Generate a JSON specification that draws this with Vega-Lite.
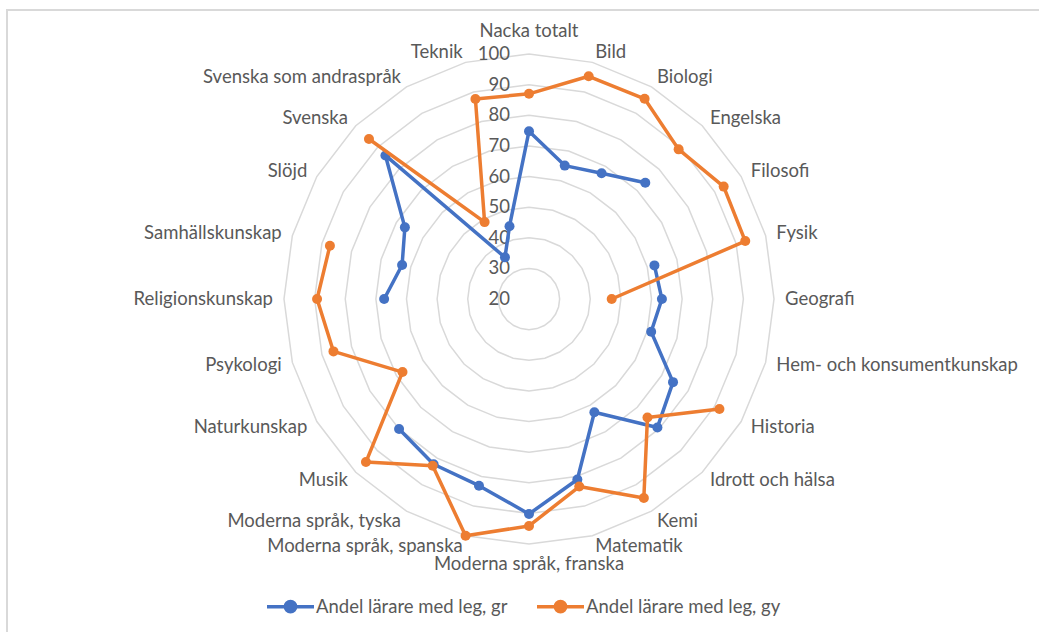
{
  "$schema": "https://vega.github.io/schema/vega-lite/v6.json",
  "width": 1035,
  "height": 625,
  "autosize": {"type": "none"},
  "padding": {"left": 7, "top": 10, "right": -3, "bottom": -3},
  "background": "white",
  "config": {
    "view": {"stroke": "#d9d9d9", "strokeWidth": 2},
    "font": "Lato",
    "text": {"font": "Lato", "fontSize": 18.5, "color": "#595959"}
  },
  "datasets": {
    "main": [
      {"cat": "Nacka totalt", "i": 0, "serie": "Andel lärare med leg, gr", "v": 74.8},
      {"cat": "Bild", "i": 1, "serie": "Andel lärare med leg, gr", "v": 65.1},
      {"cat": "Biologi", "i": 2, "serie": "Andel lärare med leg, gr", "v": 67.4},
      {"cat": "Engelska", "i": 3, "serie": "Andel lärare med leg, gr", "v": 73.7},
      {"cat": "Filosofi", "i": 4, "serie": "Andel lärare med leg, gr", "v": null},
      {"cat": "Fysik", "i": 5, "serie": "Andel lärare med leg, gr", "v": 62.4},
      {"cat": "Geografi", "i": 6, "serie": "Andel lärare med leg, gr", "v": 63.4},
      {"cat": "Hem- och konsumentkunskap", "i": 7, "serie": "Andel lärare med leg, gr", "v": 61.3},
      {"cat": "Historia", "i": 8, "serie": "Andel lärare med leg, gr", "v": 74.3},
      {"cat": "Idrott och hälsa", "i": 9, "serie": "Andel lärare med leg, gr", "v": 79.3},
      {"cat": "Kemi", "i": 10, "serie": "Andel lärare med leg, gr", "v": 62.7},
      {"cat": "Matematik", "i": 11, "serie": "Andel lärare med leg, gr", "v": 81.0},
      {"cat": "Moderna språk, franska", "i": 12, "serie": "Andel lärare med leg, gr", "v": 90.2},
      {"cat": "Moderna språk, spanska", "i": 13, "serie": "Andel lärare med leg, gr", "v": 83.1},
      {"cat": "Moderna språk, tyska", "i": 14, "serie": "Andel lärare med leg, gr", "v": 82.3},
      {"cat": "Musik", "i": 15, "serie": "Andel lärare med leg, gr", "v": 80.0},
      {"cat": "Naturkunskap", "i": 16, "serie": "Andel lärare med leg, gr", "v": null},
      {"cat": "Psykologi", "i": 17, "serie": "Andel lärare med leg, gr", "v": null},
      {"cat": "Religionskunskap", "i": 18, "serie": "Andel lärare med leg, gr", "v": 67.3},
      {"cat": "Samhällskunskap", "i": 19, "serie": "Andel lärare med leg, gr", "v": 62.9},
      {"cat": "Slöjd", "i": 20, "serie": "Andel lärare med leg, gr", "v": 66.8},
      {"cat": "Svenska", "i": 21, "serie": "Andel lärare med leg, gr", "v": 86.3},
      {"cat": "Svenska som andraspråk", "i": 22, "serie": "Andel lärare med leg, gr", "v": 35.7},
      {"cat": "Teknik", "i": 23, "serie": "Andel lärare med leg, gr", "v": 44.6},
      {"cat": "Nacka totalt", "i": 24, "serie": "Andel lärare med leg, gr", "v": 74.8},
      {"cat": "Nacka totalt", "i": 0, "serie": "Andel lärare med leg, gy", "v": 87.0},
      {"cat": "Bild", "i": 1, "serie": "Andel lärare med leg, gy", "v": 95.3},
      {"cat": "Biologi", "i": 2, "serie": "Andel lärare med leg, gy", "v": 95.5},
      {"cat": "Engelska", "i": 3, "serie": "Andel lärare med leg, gy", "v": 89.1},
      {"cat": "Filosofi", "i": 4, "serie": "Andel lärare med leg, gy", "v": 93.4},
      {"cat": "Fysik", "i": 5, "serie": "Andel lärare med leg, gy", "v": 93.1},
      {"cat": "Geografi", "i": 6, "serie": "Andel lärare med leg, gy", "v": 47.0},
      {"cat": "Hem- och konsumentkunskap", "i": 7, "serie": "Andel lärare med leg, gy", "v": null},
      {"cat": "Historia", "i": 8, "serie": "Andel lärare med leg, gy", "v": 91.8},
      {"cat": "Idrott och hälsa", "i": 9, "serie": "Andel lärare med leg, gy", "v": 74.7},
      {"cat": "Kemi", "i": 10, "serie": "Andel lärare med leg, gy", "v": 95.0},
      {"cat": "Matematik", "i": 11, "serie": "Andel lärare med leg, gy", "v": 83.4},
      {"cat": "Moderna språk, franska", "i": 12, "serie": "Andel lärare med leg, gy", "v": 94.1},
      {"cat": "Moderna språk, spanska", "i": 13, "serie": "Andel lärare med leg, gy", "v": 100.0},
      {"cat": "Moderna språk, tyska", "i": 14, "serie": "Andel lärare med leg, gy", "v": 82.9},
      {"cat": "Musik", "i": 15, "serie": "Andel lärare med leg, gy", "v": 95.3},
      {"cat": "Naturkunskap", "i": 16, "serie": "Andel lärare med leg, gy", "v": 67.7},
      {"cat": "Psykologi", "i": 17, "serie": "Andel lärare med leg, gy", "v": 86.1},
      {"cat": "Religionskunskap", "i": 18, "serie": "Andel lärare med leg, gy", "v": 89.2},
      {"cat": "Samhällskunskap", "i": 19, "serie": "Andel lärare med leg, gy", "v": 87.3},
      {"cat": "Slöjd", "i": 20, "serie": "Andel lärare med leg, gy", "v": null},
      {"cat": "Svenska", "i": 21, "serie": "Andel lärare med leg, gy", "v": 93.9},
      {"cat": "Svenska som andraspråk", "i": 22, "serie": "Andel lärare med leg, gy", "v": 49.0},
      {"cat": "Teknik", "i": 23, "serie": "Andel lärare med leg, gy", "v": 87.6},
      {"cat": "Nacka totalt", "i": 24, "serie": "Andel lärare med leg, gy", "v": 87.0}
    ],
    "grid": [
      {"r": 30, "k": [0,1,2,3,4,5,6,7,8,9,10,11,12,13,14,15,16,17,18,19,20,21,22,23,24]},
      {"r": 40, "k": [0,1,2,3,4,5,6,7,8,9,10,11,12,13,14,15,16,17,18,19,20,21,22,23,24]},
      {"r": 50, "k": [0,1,2,3,4,5,6,7,8,9,10,11,12,13,14,15,16,17,18,19,20,21,22,23,24]},
      {"r": 60, "k": [0,1,2,3,4,5,6,7,8,9,10,11,12,13,14,15,16,17,18,19,20,21,22,23,24]},
      {"r": 70, "k": [0,1,2,3,4,5,6,7,8,9,10,11,12,13,14,15,16,17,18,19,20,21,22,23,24]},
      {"r": 80, "k": [0,1,2,3,4,5,6,7,8,9,10,11,12,13,14,15,16,17,18,19,20,21,22,23,24]},
      {"r": 90, "k": [0,1,2,3,4,5,6,7,8,9,10,11,12,13,14,15,16,17,18,19,20,21,22,23,24]},
      {"r": 100, "k": [0,1,2,3,4,5,6,7,8,9,10,11,12,13,14,15,16,17,18,19,20,21,22,23,24]}
    ],
    "ticks": [
      {"t": 20}, {"t": 30}, {"t": 40}, {"t": 50}, {"t": 60}, {"t": 70}, {"t": 80}, {"t": 90}, {"t": 100}
    ]
  },
  "layer": [
    {
      "data": {"name": "grid"},
      "transform": [
        {"flatten": ["k"]},
        {"calculate": "(datum.r - 20) * sin(datum.k * PI / 12)", "as": "gx"},
        {"calculate": "(datum.r - 20) * cos(datum.k * PI / 12)", "as": "gy"}
      ],
      "mark": {"type": "line", "stroke": "#d9d9d9", "strokeWidth": 1.5},
      "encoding": {
        "x": {"field": "gx", "type": "quantitative", "scale": {"domain": [-170.45, 167.51], "zero": false, "nice": false}, "axis": null},
        "y": {"field": "gy", "type": "quantitative", "scale": {"domain": [-109.71, 94.37], "zero": false, "nice": false}, "axis": null},
        "detail": {"field": "r", "type": "nominal"},
        "order": {"field": "k", "type": "quantitative"}
      }
    },
    {
      "data": {"name": "ticks"},
      "transform": [{"calculate": "datum.t - 20", "as": "ty"}],
      "mark": {"type": "text", "align": "right", "baseline": "middle", "dx": -19},
      "encoding": {
        "x": {"datum": 0, "type": "quantitative"},
        "y": {"field": "ty", "type": "quantitative"},
        "text": {"field": "t", "type": "quantitative"}
      }
    },
    {
      "data": {"name": "main"},
      "transform": [
        {"filter": "datum.serie == 'Andel lärare med leg, gr' && datum.i > 0 && datum.i < 12"},
        {"calculate": "83.6 * sin(datum.i * PI / 12)", "as": "lx"},
        {"calculate": "83.6 * cos(datum.i * PI / 12)", "as": "ly"}
      ],
      "mark": {"type": "text", "align": "left", "baseline": "middle"},
      "encoding": {
        "x": {"field": "lx", "type": "quantitative"},
        "y": {"field": "ly", "type": "quantitative"},
        "text": {"field": "cat", "type": "nominal"}
      }
    },
    {
      "data": {"name": "main"},
      "transform": [
        {"filter": "datum.serie == 'Andel lärare med leg, gr' && datum.i > 12 && datum.i < 24"},
        {"calculate": "83.6 * sin(datum.i * PI / 12)", "as": "lx"},
        {"calculate": "83.6 * cos(datum.i * PI / 12)", "as": "ly"}
      ],
      "mark": {"type": "text", "align": "right", "baseline": "middle"},
      "encoding": {
        "x": {"field": "lx", "type": "quantitative"},
        "y": {"field": "ly", "type": "quantitative"},
        "text": {"field": "cat", "type": "nominal"}
      }
    },
    {
      "data": {"name": "main"},
      "transform": [
        {"filter": "datum.serie == 'Andel lärare med leg, gr' && datum.i == 0"},
        {"calculate": "83.6 * sin(datum.i * PI / 12)", "as": "lx"},
        {"calculate": "83.6 * cos(datum.i * PI / 12)", "as": "ly"}
      ],
      "mark": {"type": "text", "align": "center", "baseline": "alphabetic", "dy": -6},
      "encoding": {
        "x": {"field": "lx", "type": "quantitative"},
        "y": {"field": "ly", "type": "quantitative"},
        "text": {"field": "cat", "type": "nominal"}
      }
    },
    {
      "data": {"name": "main"},
      "transform": [
        {"filter": "datum.serie == 'Andel lärare med leg, gr' && datum.i == 12"},
        {"calculate": "83.6 * sin(datum.i * PI / 12)", "as": "lx"},
        {"calculate": "83.6 * cos(datum.i * PI / 12)", "as": "ly"}
      ],
      "mark": {"type": "text", "align": "center", "baseline": "top"},
      "encoding": {
        "x": {"field": "lx", "type": "quantitative"},
        "y": {"field": "ly", "type": "quantitative"},
        "text": {"field": "cat", "type": "nominal"}
      }
    },
    {
      "data": {"name": "main"},
      "transform": [
        {"filter": "datum.serie == 'Andel lärare med leg, gr'"},
        {"calculate": "datum.v == null ? null : (datum.v - 20) * sin(datum.i * PI / 12)", "as": "px"},
        {"calculate": "datum.v == null ? null : (datum.v - 20) * cos(datum.i * PI / 12)", "as": "py"}
      ],
      "mark": {"type": "line", "strokeWidth": 3.5, "strokeJoin": "round"},
      "encoding": {
        "x": {"field": "px", "type": "quantitative"},
        "y": {"field": "py", "type": "quantitative"},
        "order": {"field": "i", "type": "quantitative"},
        "color": {"field": "serie", "type": "nominal", "scale": {"domain": ["Andel lärare med leg, gr", "Andel lärare med leg, gy"], "range": ["#4472C4", "#ED7D31"]}, "title": null,
          "legend": {"orient": "none", "legendX": 258, "legendY": 571, "direction": "horizontal", "title": null, "padding": 0, "symbolType": "M-1,0H1M-0.22,0A0.22,0.22,0,1,0,0.22,0A0.22,0.22,0,1,0,-0.22,0", "symbolSize": 2209, "symbolStrokeWidth": 3.5, "labelFont": "Lato", "labelFontSize": 18.5, "labelColor": "#595959", "labelOffset": 0, "columnPadding": 22, "labelLimit": 400,
            "encode": {"symbols": {"update": {"fill": {"scale": "color", "field": "value"}, "stroke": {"scale": "color", "field": "value"}}}}}}
      }
    },
    {
      "data": {"name": "main"},
      "transform": [
        {"filter": "datum.serie == 'Andel lärare med leg, gr' && datum.v != null && datum.i < 24"},
        {"calculate": "(datum.v - 20) * sin(datum.i * PI / 12)", "as": "px"},
        {"calculate": "(datum.v - 20) * cos(datum.i * PI / 12)", "as": "py"}
      ],
      "mark": {"type": "point", "filled": true, "size": 100, "opacity": 1, "shape": "circle"},
      "encoding": {
        "x": {"field": "px", "type": "quantitative"},
        "y": {"field": "py", "type": "quantitative"},
        "color": {"field": "serie", "type": "nominal"}
      }
    },
    {
      "data": {"name": "main"},
      "transform": [
        {"filter": "datum.serie == 'Andel lärare med leg, gy'"},
        {"calculate": "datum.v == null ? null : (datum.v - 20) * sin(datum.i * PI / 12)", "as": "px"},
        {"calculate": "datum.v == null ? null : (datum.v - 20) * cos(datum.i * PI / 12)", "as": "py"}
      ],
      "mark": {"type": "line", "strokeWidth": 3.5, "strokeJoin": "round"},
      "encoding": {
        "x": {"field": "px", "type": "quantitative"},
        "y": {"field": "py", "type": "quantitative"},
        "order": {"field": "i", "type": "quantitative"},
        "color": {"field": "serie", "type": "nominal"}
      }
    },
    {
      "data": {"name": "main"},
      "transform": [
        {"filter": "datum.serie == 'Andel lärare med leg, gy' && datum.v != null && datum.i < 24"},
        {"calculate": "(datum.v - 20) * sin(datum.i * PI / 12)", "as": "px"},
        {"calculate": "(datum.v - 20) * cos(datum.i * PI / 12)", "as": "py"}
      ],
      "mark": {"type": "point", "filled": true, "size": 100, "opacity": 1, "shape": "circle"},
      "encoding": {
        "x": {"field": "px", "type": "quantitative"},
        "y": {"field": "py", "type": "quantitative"},
        "color": {"field": "serie", "type": "nominal"}
      }
    }
  ]
}
